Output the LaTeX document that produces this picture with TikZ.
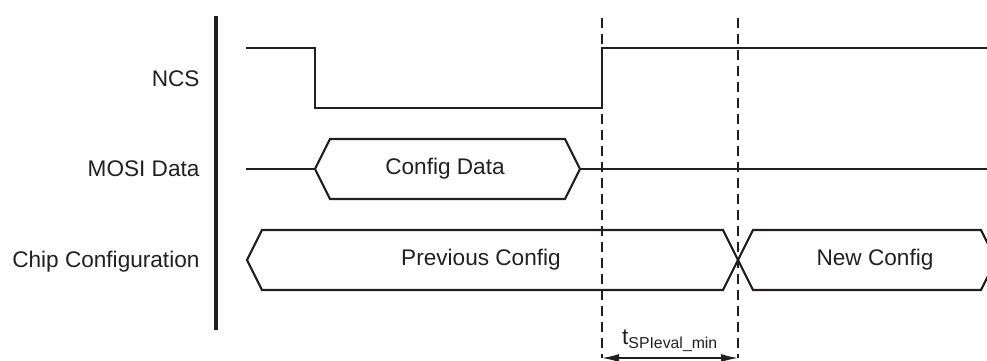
\documentclass[tikz,border=0pt]{standalone}
\usepackage{fontspec}
\setmainfont{Liberation Sans}
\usetikzlibrary{arrows.meta}
\definecolor{ink}{RGB}{35,31,32}

\begin{document}
\begin{tikzpicture}[x=1pt,y=-1pt,font=\fontsize{22.6}{27}\selectfont,
    sig/.style={draw=ink,line width=2.2pt,line join=miter},
    guide/.style={draw=ink,line width=1.1pt,dash pattern=on 10pt off 6pt}]
  \useasboundingbox (0,0) rectangle (987,360);
  % signal names
  \node [anchor=east,text=ink] (ncs) at (203,79) {NCS};
  \node [anchor=east,text=ink] (mosi) at (203,169) {MOSI Data};
  \node [anchor=east,text=ink] (chip) at (203,262) {Chip Configuration};
  \draw [ink,line width=4pt] (216,16) -- (216,330);
  % time marks
  \coordinate [] (T1) at (602,18);
  \coordinate [] (T2) at (738,18);
  \coordinate [] (B1) at (602,358);
  \coordinate [] (B2) at (738,358);
  \draw [guide] (T1) -- (B1);
  \draw [guide] (T2) -- (B2);
  % NCS
  \draw [sig] (246,48) -- (315,48) -- (315,108) -- (602,108) -- (602,48) -- (990,48);
  % MOSI Data
  \draw [sig] (246,169) -- (315,169);
  \draw [sig] (315,169) -- (330,139) -- (565,139) -- (580,169) -- (565,199) -- (330,199) -- cycle;
  \node [text=ink] (cfgdata) at (445,169) {Config Data};
  \draw [sig] (580,169) -- (990,169);
  % Chip Configuration
  \draw [sig] (738,260) -- (723,230) -- (262,230) -- (247,260) -- (262,290) -- (723,290) -- cycle;
  \node [text=ink] (prev) at (481,260) {Previous Config};
  \draw [sig] (738,260) -- (753,230) -- (981,230) -- (996,260) -- (981,290) -- (753,290) -- cycle;
  \node [text=ink] (new) at (875,260) {New Config};
  % timing
  \draw [ink,line width=1.3pt,{Latex[length=17pt,width=8pt]}-{Latex[length=17pt,width=8pt]}] (B1) -- node[above=2pt,text=ink] (teval) {t\textsubscript{SPIeval\_min}} (B2);
\end{tikzpicture}
\end{document}
